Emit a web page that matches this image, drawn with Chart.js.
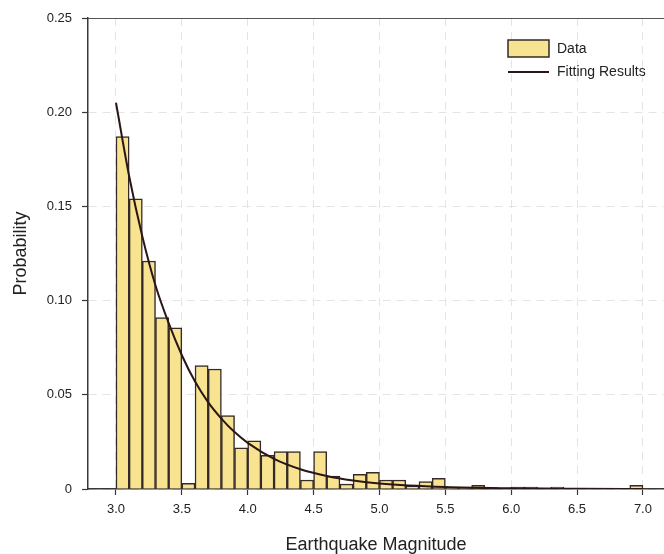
<!DOCTYPE html>
<html>
<head>
<meta charset="utf-8">
<script src="https://cdn.jsdelivr.net/npm/chart.js@4.4.1/dist/chart.umd.min.js"></script>
<style>
  body { margin: 0; background: #fff; }
  #chart { display: block; }
</style>
</head>
<body>
<canvas id="chart" width="664" height="554"></canvas>
<script>
// histogram bins (left edge of each 0.1 bin)
const binStarts = [3.0, 3.1, 3.2, 3.3, 3.4, 3.5, 3.6, 3.7, 3.8, 3.9,
                   4.0, 4.1, 4.2, 4.3, 4.4, 4.5, 4.6, 4.7, 4.8, 4.9,
                   5.0, 5.1, 5.2, 5.3, 5.4, 5.5, 5.6, 5.7, 5.8, 5.9,
                   6.0, 6.1, 6.2, 6.3, 6.4, 6.5, 6.6, 6.7, 6.8, 6.9];
const probability = [0.187, 0.154, 0.121, 0.091, 0.0855, 0.003, 0.0655, 0.0637, 0.039, 0.0218,
                     0.0256, 0.0179, 0.0198, 0.0198, 0.0048, 0.0198, 0.0069, 0.0026, 0.0078, 0.0089,
                     0.0048, 0.0048, 0.0016, 0.0039, 0.0057, 0.0005, 0.0005, 0.002, 0.0008, 0.0005,
                     0.001, 0.001, 0.0005, 0.001, 0.0003, 0, 0.0003, 0, 0, 0.002];
// fitted curve
const fitX = [3.0, 3.1, 3.2, 3.3, 3.4, 3.5, 3.6, 3.7, 3.8, 3.9, 4.0, 4.2, 4.4, 4.6, 4.8, 5.0, 5.5, 6.0, 6.5, 7.0];
const fitY = [0.205, 0.166, 0.134, 0.108, 0.088, 0.071, 0.057, 0.046, 0.0374, 0.0302, 0.0245,
              0.016, 0.0105, 0.0069, 0.0045, 0.0029, 0.001, 0.00035, 0.00012, 0.00004];
const yTicks = [0, 0.05, 0.10, 0.15, 0.20, 0.25];

const BAR_FILL = 'rgb(248, 228, 144)';
const BAR_EDGE = '#352a27';
const LINE_COL = '#2a1616';
const AXIS_COL = '#3d3636';
const TEXT_COL = '#222';
const FONT = 'Liberation Sans, Arial, sans-serif';

const legendBox = {
  id: 'legendBox',
  afterDraw(chart) {
    const { ctx, chartArea: { top, left, right } } = chart;
    ctx.save();
    // top frame line
    ctx.strokeStyle = '#555';
    ctx.lineWidth = 1.2;
    ctx.beginPath();
    ctx.moveTo(left, top + 0.5);
    ctx.lineTo(right, top + 0.5);
    ctx.stroke();
    // legend
    ctx.fillStyle = BAR_FILL;
    ctx.fillRect(508, 40, 41, 17);
    ctx.strokeStyle = BAR_EDGE;
    ctx.lineWidth = 1.5;
    ctx.strokeRect(508, 40, 41, 17);
    ctx.strokeStyle = LINE_COL;
    ctx.lineWidth = 2;
    ctx.beginPath();
    ctx.moveTo(508, 72);
    ctx.lineTo(549, 72);
    ctx.stroke();
    ctx.fillStyle = TEXT_COL;
    ctx.font = '14px ' + FONT;
    ctx.textBaseline = 'middle';
    ctx.fillText('Data', 557, 49);
    ctx.fillText('Fitting Results', 557, 72);
    ctx.restore();
  }
};

const chart = new Chart(document.getElementById('chart'), {
  type: 'bar',
  data: {
    datasets: [
      {
        type: 'line',
        data: fitX.map((x, i) => ({ x: x, y: fitY[i] })),
        borderColor: LINE_COL,
        borderWidth: 2,
        pointRadius: 0,
        cubicInterpolationMode: 'monotone',
        order: 0
      },
      {
        type: 'bar',
        data: binStarts.map((x, i) => ({ x: x + 0.05, y: probability[i] })),
        backgroundColor: BAR_FILL,
        borderColor: BAR_EDGE,
        borderWidth: 1.5,
        borderSkipped: 'start',
        barPercentage: 1,
        categoryPercentage: 1,
        grouped: false,
        order: 1
      }
    ]
  },
  options: {
    responsive: false,
    animation: false,
    layout: { padding: { top: 18, right: 0, left: 0, bottom: 0 } },
    plugins: { legend: { display: false }, tooltip: { enabled: false } },
    scales: {
      x: {
        type: 'linear',
        min: 2.7875,
        max: 7.16,
        offset: false,
        afterFit: (s) => { s.height = 65; },
        ticks: {
          stepSize: 0.5,
          includeBounds: false,
          autoSkip: false,
          maxRotation: 0,
          padding: 7,
          color: TEXT_COL,
          font: { family: FONT, size: 13 },
          callback: (v) => v.toFixed(1)
        },
        grid: {
          offset: false,
          color: '#e4e4e4',
          tickColor: AXIS_COL,
          tickLength: 6,
          tickWidth: 1.2,
          tickBorderDash: []
        },
        border: { display: true, color: AXIS_COL, width: 1.5, dash: [8, 6] },
        title: {
          display: true,
          text: 'Earthquake Magnitude',
          color: TEXT_COL,
          font: { family: FONT, size: 18 },
          padding: { top: 0, bottom: -2 }
        }
      },
      y: {
        min: 0,
        max: 0.25,
        afterFit: (s) => { s.width = 88; },
        afterBuildTicks: (s) => { s.ticks = yTicks.map(v => ({ value: v })); },
        ticks: {
          padding: 10,
          color: TEXT_COL,
          font: { family: FONT, size: 13 },
          callback: (v) => v === 0 ? '0' : v.toFixed(2)
        },
        grid: {
          color: (c) => c.tick && c.tick.value >= 0.25 ? 'rgba(0,0,0,0)' : '#e4e4e4',
          tickColor: AXIS_COL,
          tickLength: 6,
          tickWidth: 1.2,
          tickBorderDash: []
        },
        border: { display: true, color: AXIS_COL, width: 1.5, dash: [8, 6] },
        title: {
          display: true,
          text: 'Probability',
          color: TEXT_COL,
          font: { family: FONT, size: 18 },
          padding: { top: 10, bottom: 0 }
        }
      }
    }
  },
  plugins: [legendBox]
});
</script>
</body>
</html>
